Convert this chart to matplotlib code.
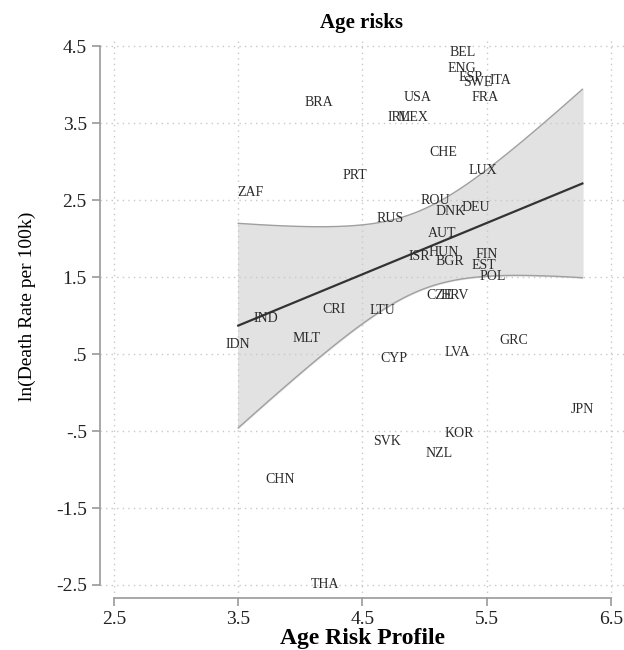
import numpy as np
import matplotlib.pyplot as plt

# country codes and values
countries = ["BEL", "ENG", "ESP", "SWE", "ITA", "FRA", "USA", "IRL", "MEX", "BRA",
             "CHE", "LUX", "PRT", "ZAF", "ROU", "DNK", "DEU", "RUS", "AUT", "ISR",
             "HUN", "BGR", "FIN", "EST", "POL", "CZE", "HRV", "LTU", "CRI", "IND",
             "IDN", "MLT", "CYP", "LVA", "GRC", "JPN", "KOR", "SVK", "NZL", "CHN",
             "THA"]
age_risk = [5.31, 5.30, 5.37, 5.43, 5.61, 5.49, 4.94, 4.79, 4.91, 4.15,
            5.15, 5.47, 4.44, 3.60, 5.09, 5.21, 5.41, 4.72, 5.14, 4.96,
            5.15, 5.20, 5.50, 5.48, 5.55, 5.12, 5.24, 4.66, 4.27, 3.72,
            3.50, 4.05, 4.75, 5.26, 5.72, 6.27, 5.28, 4.70, 5.12, 3.84,
            4.20]
ln_death = [4.42, 4.21, 4.10, 4.03, 4.06, 3.84, 3.84, 3.58, 3.58, 3.77,
            3.12, 2.89, 2.82, 2.60, 2.50, 2.35, 2.41, 2.26, 2.07, 1.77,
            1.82, 1.70, 1.79, 1.65, 1.51, 1.26, 1.26, 1.07, 1.08, 0.96,
            0.62, 0.70, 0.44, 0.52, 0.68, -0.22, -0.53, -0.64, -0.79, -1.13,
            -2.50]

xticks = [2.5, 3.5, 4.5, 5.5, 6.5]
yticks = [4.5, 3.5, 2.5, 1.5, 0.5, -0.5, -1.5, -2.5]
ytick_labels = ["4.5", "3.5", "2.5", "1.5", ".5", "-.5", "-1.5", "-2.5"]

x = np.array(age_risk)
y = np.array(ln_death)

# linear fit with 95% CI of the mean (like Stata lfitci)
n = len(x)
slope, intercept = np.polyfit(x, y, 1)
resid = y - (intercept + slope * x)
s = np.sqrt(np.sum(resid ** 2) / (n - 2))
sxx = np.sum((x - x.mean()) ** 2)
xs = np.linspace(x.min(), x.max(), 100)
fit = intercept + slope * xs
se = s * np.sqrt(1 / n + (xs - x.mean()) ** 2 / sxx)
t = 2.02
lo, hi = fit - t * se, fit + t * se

plt.rcParams['font.family'] = ['Liberation Serif', 'DejaVu Serif']

fig = plt.figure(figsize=(6.24, 6.5), dpi=100)
ax = fig.add_axes([100 / 624, 52 / 650, 524 / 624, 560 / 650])

ax.fill_between(xs, lo, hi, color='#e2e2e2', zorder=1)
ax.plot(xs, lo, color='#a0a0a0', lw=1.0, zorder=2)
ax.plot(xs, hi, color='#a0a0a0', lw=1.0, zorder=2)
ax.plot(xs, fit, color='#333333', lw=1.6, zorder=3)

for c, xi, yi in zip(countries, age_risk, ln_death):
    ax.text(xi, yi, c, ha='center', va='center', fontsize=10,
            color='#2a2a2a', zorder=4)

ax.set_xlim(2.387, 6.605)
ax.set_ylim(-2.669, 4.61)
ax.set_xticks(xticks)
ax.set_xticklabels([str(v) for v in xticks])
ax.set_yticks(yticks)
ax.set_yticklabels(ytick_labels)

ax.grid(True, linestyle=(0, (1, 3)), color='#c8c8c8', lw=1.0, zorder=0)
for side in ['top', 'right']:
    ax.spines[side].set_visible(False)
ax.spines['left'].set_bounds(-2.5, 4.5)
ax.spines['bottom'].set_bounds(2.5, 6.5)
for side in ['left', 'bottom']:
    ax.spines[side].set_color('#999999')
    ax.spines[side].set_linewidth(1.2)
ax.tick_params(direction='out', length=6, width=1.2, color='#999999',
               labelsize=14, labelcolor='#222222')

ax.set_title('Age risks', fontsize=15, fontweight='bold', pad=7)
ax.set_xlabel('Age Risk Profile', fontsize=17, fontweight='bold', labelpad=0)
ax.set_ylabel('ln(Death Rate per 100k)', fontsize=14)
ax.yaxis.set_label_coords(-0.122, 0.521)

fig.savefig('out.png', dpi=100)
